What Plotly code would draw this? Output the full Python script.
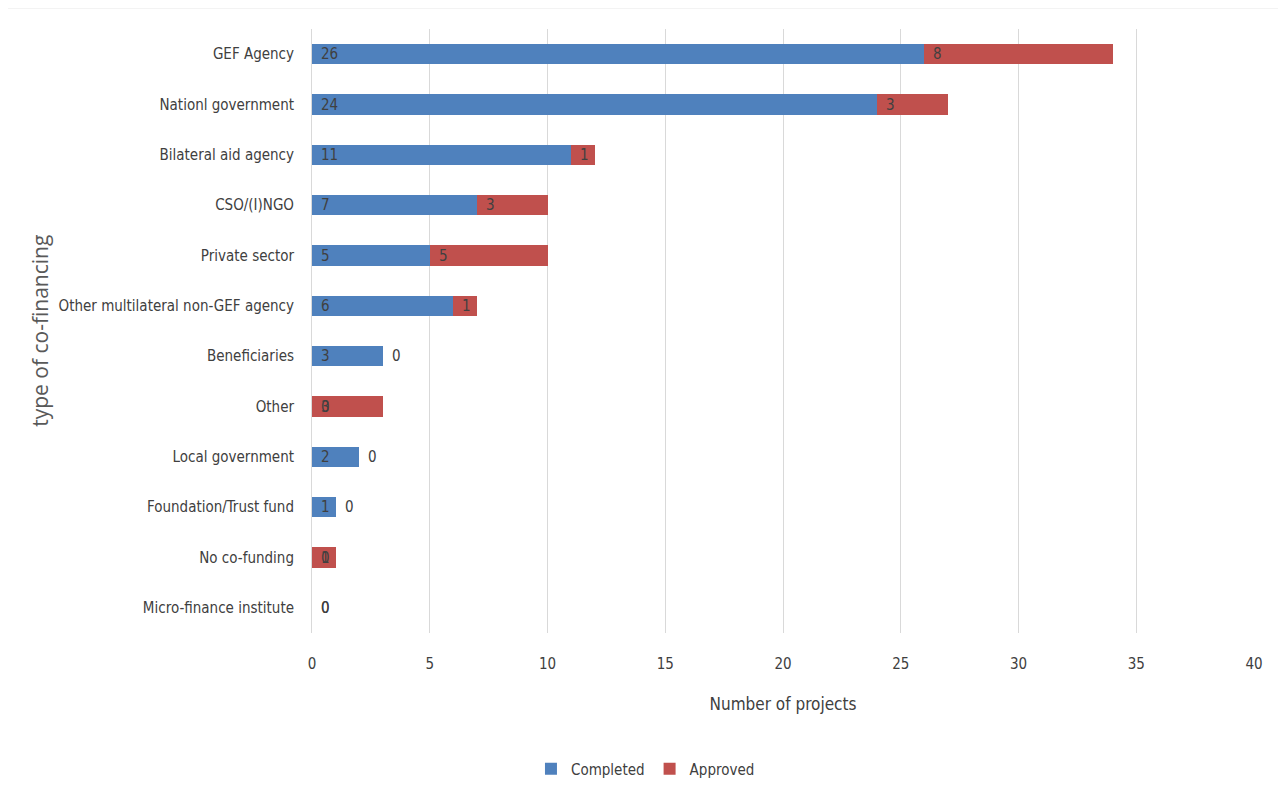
import plotly.graph_objects as go

categories = ["GEF Agency", "Nationl government", "Bilateral aid agency", "CSO/(I)NGO",
              "Private sector", "Other multilateral non-GEF agency", "Beneficiaries", "Other",
              "Local government", "Foundation/Trust fund", "No co-funding", "Micro-finance institute"]
completed = [26, 24, 11, 7, 5, 6, 3, 0, 2, 1, 0, 0]
approved = [8, 3, 1, 3, 5, 1, 0, 3, 0, 0, 1, 0]
x_ticks = [0, 5, 10, 15, 20, 25, 30, 35, 40]

BLUE = "#4F81BD"
RED = "#C0504D"
FONT = "DejaVu Sans Condensed, Liberation Sans, sans-serif"

fig = go.Figure()
fig.add_trace(go.Bar(y=categories, x=completed, orientation="h", name="Completed",
                     marker=dict(color=BLUE, line=dict(width=0))))
fig.add_trace(go.Bar(y=categories, x=approved, orientation="h", name="Approved",
                     marker=dict(color=RED, line=dict(width=0))))

annotations = []
for cat, c, a in zip(categories, completed, approved):
    annotations.append(dict(x=0, y=cat, xref="x", yref="y", text=str(c), showarrow=False,
                            xanchor="left", xshift=7, font=dict(family=FONT, size=15, color="#404040")))
    annotations.append(dict(x=c, y=cat, xref="x", yref="y", text=str(a), showarrow=False,
                            xanchor="left", xshift=7, font=dict(family=FONT, size=15, color="#404040")))

annotations.append(dict(x=-0.289, y=0.5, xref="paper", yref="paper", text="type of co-financing",
                        textangle=-90, showarrow=False, xanchor="center", yanchor="middle",
                        font=dict(family="Open Sans", size=21, color="#595959")))

fig.update_layout(
    barmode="stack",
    bargap=0.6,
    width=1278, height=790,
    margin=dict(l=304, r=32, t=21, b=156),
    paper_bgcolor="white", plot_bgcolor="white",
    font=dict(family=FONT, size=15, color="#404040"),
    annotations=annotations,
    legend=dict(orientation="h", x=0.354, y=-0.225, xanchor="center", yanchor="middle",
                font=dict(family=FONT, size=15, color="#404040"), traceorder="normal"),
    xaxis=dict(range=[0, 40], tickvals=x_ticks, showgrid=True, gridcolor="#D9D9D9", gridwidth=1,
               zeroline=False, showline=False, ticklabelstandoff=20,
               tickfont=dict(family=FONT, size=15, color="#404040"),
               title=dict(text="Number of projects", standoff=26,
                          font=dict(family=FONT, size=17, color="#404040"))),
    yaxis=dict(categoryorder="array", categoryarray=categories[::-1], autorange=True,
               showline=True, linecolor="#D9D9D9", linewidth=1, ticks="", ticklabelstandoff=14,
               tickfont=dict(family=FONT, size=15, color="#404040")),
    shapes=[
        dict(type="line", xref="paper", yref="paper", x0=-0.34, x1=1.032, y0=1.037, y1=1.037,
             line=dict(color="#D0D0D0", width=3)),
    ],
)

fig.write_html("out.html")
